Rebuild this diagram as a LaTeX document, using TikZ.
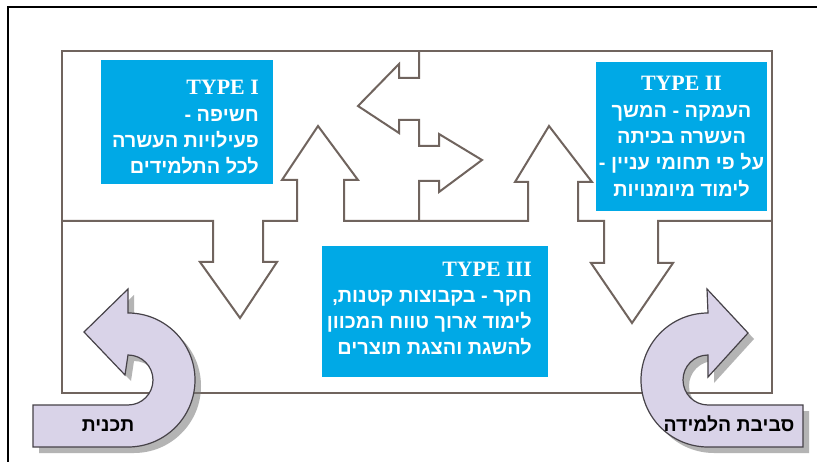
\documentclass[tikz,border=0pt]{standalone}
\usepackage{fontspec}
\setmainfont{Liberation Sans}
\newfontfamily\hebfont[Script=Hebrew]{Liberation Sans}
\newfontfamily\typefont{Liberation Serif}
\TeXXeTstate=1
\definecolor{boxblue}{RGB}{0,169,230}
\definecolor{diagline}{RGB}{112,100,94}
\definecolor{lav}{RGB}{217,211,232}
\definecolor{shadowgray}{RGB}{120,120,120}
\definecolor{uline}{RGB}{70,66,72}
\tikzset{
  diag/.style={draw=diagline, line width=2bp, line join=miter},
  bluebox/.style={fill=boxblue, draw=none, inner sep=0pt, anchor=north west},
  typetxt/.style={text=white, inner sep=0pt, font=\typefont\bfseries\fontsize{22}{24}\selectfont},
  hebtxt/.style={text=white, inner sep=0pt, font=\hebfont\bfseries\fontsize{20}{24}\selectfont},
  arrowtxt/.style={text=black, inner sep=0pt, font=\hebfont\bfseries\fontsize{19.5}{22}\selectfont},
  ushadow/.style={fill=shadowgray, opacity=0.55},
  ubody/.style={fill=lav, draw=uline, line width=1.2bp, line join=miter}
}
\begin{document}
\begin{tikzpicture}[x=1bp,y=-1bp]
\useasboundingbox (0,0) rectangle (817,462);
\clip (0,0) rectangle (817,462);
\fill[white] (0,0) rectangle (817,462);
% outer black frame
\draw[black, line width=2.2bp] (8,7) rectangle (840,480);
% diagram
\draw[diag] (62,51) rectangle (772,393);
\draw[diag] (419,51) -- (419,78) -- (399,78) -- (399,64) -- (358,106) -- (399,133) -- (399,120) -- (419,120)
  -- (419,146) -- (439,146) -- (439,134) -- (482,160) -- (439,192) -- (439,181) -- (419,181) -- (419,221);
\draw[diag] (62,221) -- (213,221) -- (213,262) -- (200,262) -- (240,318) -- (277,262) -- (263,262) -- (263,221)
  -- (297,221) -- (297,180) -- (282,180) -- (318,126) -- (358,180) -- (344,180) -- (344,221)
  -- (528,221) -- (528,182) -- (515,182) -- (549,126) -- (592,182) -- (578,182) -- (578,221)
  -- (604,221) -- (604,263) -- (591,263) -- (632,323) -- (673,263) -- (658,263) -- (658,221) -- (772,221);
% blue boxes
\node[bluebox, minimum width=172bp, minimum height=124bp] (b1) at (101,60) {};
\node[bluebox, minimum width=171bp, minimum height=149bp] (b2) at (596,62) {};
\node[bluebox, minimum width=226bp, minimum height=131bp] (b3) at (322,246) {};
% box I text
\node[typetxt, anchor=base east] (t1a) at (259,95) {TYPE I};
\node[hebtxt, anchor=base east] (t1b) at (259,122) {\beginR חשיפה -\endR};
\node[hebtxt, anchor=base east] (t1c) at (259,148) {\beginR פעילויות העשרה\endR};
\node[hebtxt, anchor=base east] (t1d) at (259,174) {\beginR לכל התלמידים\endR};
% box II text
\node[typetxt, anchor=base] (t2a) at (681.5,91) {TYPE II};
\node[hebtxt, anchor=base] (t2b) at (681.5,117.5) {\beginR העמקה - המשך\endR};
\node[hebtxt, anchor=base] (t2c) at (681.5,144) {\beginR העשרה בכיתה\endR};
\node[hebtxt, anchor=base] (t2d) at (681.5,170) {\beginR על פי תחומי עניין -\endR};
\node[hebtxt, anchor=base] (t2e) at (681.5,196.5) {\beginR לימוד מיומנויות\endR};
% box III text
\node[typetxt, anchor=base east] (t3a) at (532,277) {TYPE III};
\node[hebtxt, anchor=base east] (t3b) at (532,303) {\beginR חקר - בקבוצות קטנות,\endR};
\node[hebtxt, anchor=base east] (t3c) at (532,329) {\beginR לימוד ארוך טווח המכוון\endR};
\node[hebtxt, anchor=base east] (t3d) at (532,355) {\beginR להשגת והצגת תוצרים\endR};
% curved arrow left (shadow, body)
\path[ushadow] (39,453) -- (134,453) arc[start angle=90,end angle=-90,radius=67]
   -- (134,295) -- (90,338) -- (131,381) -- (134,361) arc[start angle=-90,end angle=90,radius=25]
   -- (39,411) -- cycle;
\path[ubody] (33,447) -- (128,447) arc[start angle=90,end angle=-90,radius=67]
   -- (128,289) -- (84,332) -- (125,375) -- (128,355) arc[start angle=-90,end angle=90,radius=25]
   -- (33,405) -- cycle;
% curved arrow right (shadow, body)
\path[ushadow] (809,453) -- (714,453) arc[start angle=90,end angle=270,radius=67]
   -- (713,295) -- (754,339) -- (714,383) -- (714,361) arc[start angle=270,end angle=90,radius=25]
   -- (809,411) -- cycle;
\path[ubody] (803,447) -- (708,447) arc[start angle=90,end angle=270,radius=67]
   -- (707,289) -- (748,333) -- (708,377) -- (708,355) arc[start angle=270,end angle=90,radius=25]
   -- (803,405) -- cycle;
\node[arrowtxt, anchor=base] (l1) at (108,431) {\beginR תכנית\endR};
\node[arrowtxt, anchor=base] (l2) at (729,431) {\beginR סביבת הלמידה\endR};
\end{tikzpicture}
\end{document}
